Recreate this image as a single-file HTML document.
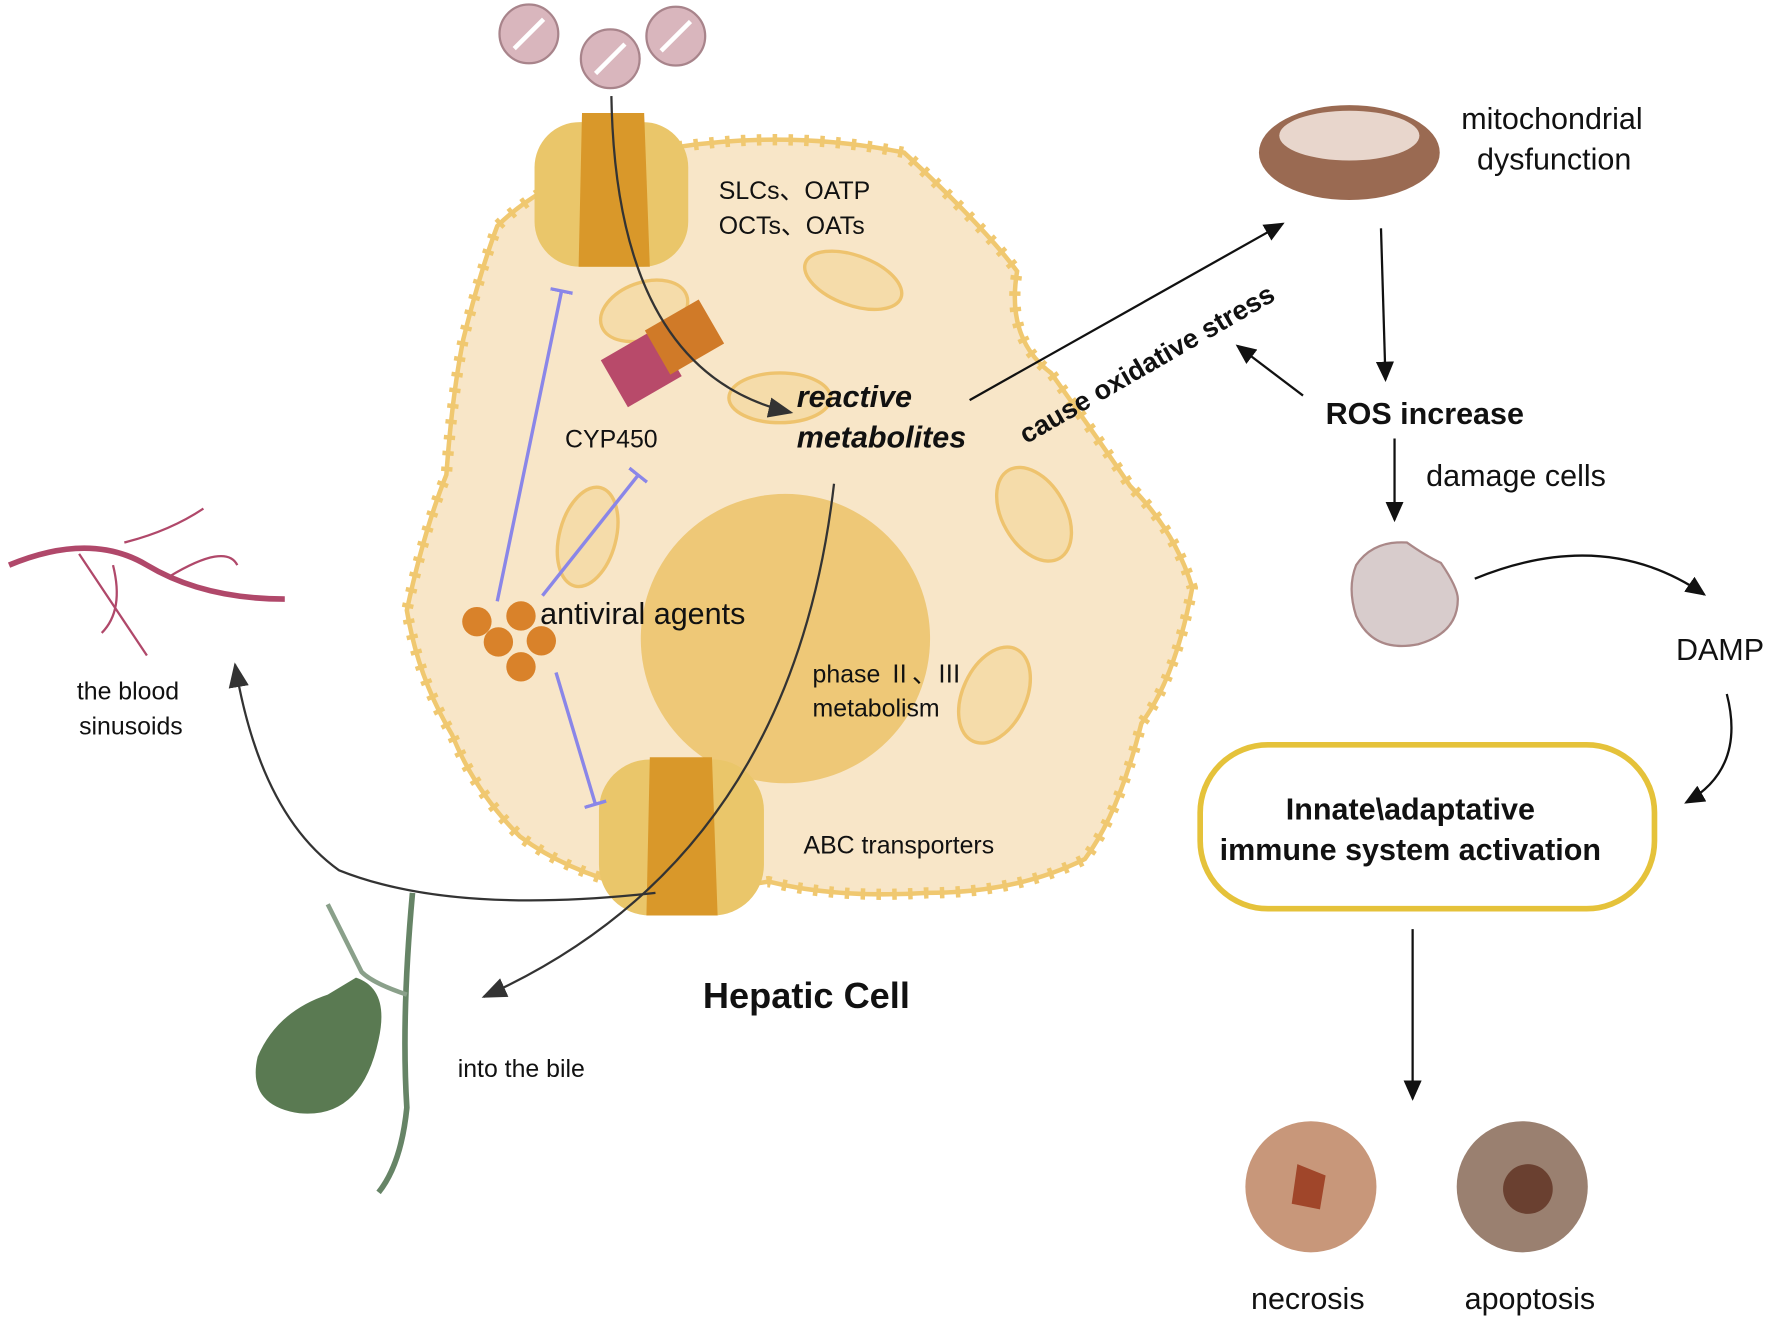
<!DOCTYPE html>
<html><head><meta charset="utf-8"><style>html,body{margin:0;padding:0;background:#fff}svg{display:block}text{font-family:"Liberation Sans","Noto Sans CJK SC",sans-serif;fill:#111}</style></head>
<body>
<svg width="1772" height="1319" viewBox="0 0 1568 1167" preserveAspectRatio="none" xmlns="http://www.w3.org/2000/svg">
<defs>
<marker id="ar" markerWidth="18" markerHeight="16" refX="16" refY="8" orient="auto" markerUnits="userSpaceOnUse"><path d="M0,0 L18,8 L0,16 z" fill="#111"/></marker>
<marker id="arg" markerWidth="22" markerHeight="18" refX="20" refY="9" orient="auto" markerUnits="userSpaceOnUse"><path d="M0,0 L22,9 L0,18 z" fill="#333"/></marker>
<marker id="bar" markerWidth="4" markerHeight="20" refX="2" refY="10" orient="auto" markerUnits="userSpaceOnUse"><rect x="0" y="0" width="3" height="20" fill="#8a86e8"/></marker>
</defs>
<!-- cell -->
<path d="M600,130 Q700,115 800,135 Q870,200 900,240 Q890,300 930,330 Q980,400 1000,430 Q1040,470 1055,520 Q1040,600 1010,640 Q990,720 960,760 Q900,790 820,790 Q740,795 680,780 Q620,790 560,785 Q500,770 460,740 Q420,700 400,650 Q370,600 360,540 Q375,470 395,420 Q400,350 410,300 Q425,240 440,200 Q470,170 520,150 Z" fill="#f8e6c8" stroke="#f0c870" stroke-width="4"/>
<path d="M600,130 Q700,115 800,135 Q870,200 900,240 Q890,300 930,330 Q980,400 1000,430 Q1040,470 1055,520 Q1040,600 1010,640 Q990,720 960,760 Q900,790 820,790 Q740,795 680,780 Q620,790 560,785 Q500,770 460,740 Q420,700 400,650 Q370,600 360,540 Q375,470 395,420 Q400,350 410,300 Q425,240 440,200 Q470,170 520,150 Z" fill="none" stroke="#f0c870" stroke-width="10" stroke-dasharray="4 10"/>
<circle cx="695" cy="565" r="128" fill="#eec877"/>
<g fill="#f5dcaa" stroke="#eec36e" stroke-width="3">
<ellipse cx="755" cy="248" rx="45" ry="22" transform="rotate(20 755 248)"/>
<ellipse cx="570" cy="275" rx="40" ry="25" transform="rotate(-20 570 275)"/>
<ellipse cx="690" cy="352" rx="45" ry="22"/>
<ellipse cx="520" cy="475" rx="25" ry="45" transform="rotate(15 520 475)"/>
<ellipse cx="915" cy="455" rx="28" ry="45" transform="rotate(-30 915 455)"/>
<ellipse cx="880" cy="615" rx="28" ry="45" transform="rotate(25 880 615)"/>
</g>
<g>
<rect x="473" y="108" width="136" height="128" rx="40" fill="#eac66a"/>
<path d="M515,100 L570,100 L575,236 L512,236 Z" fill="#d9982a"/>
<rect x="530" y="672" width="146" height="138" rx="45" fill="#eac66a"/>
<path d="M575,670 L630,670 L635,810 L572,810 Z" fill="#d9982a"/>
</g>
<g fill="#d9b6bd" stroke="#a8848b" stroke-width="2">
<circle cx="468" cy="30" r="26"/><circle cx="540" cy="52" r="26"/><circle cx="598" cy="32" r="26"/>
</g>
<g stroke="#fff" stroke-width="4"><line x1="455" y1="43" x2="481" y2="17"/><line x1="527" y1="65" x2="553" y2="39"/><line x1="585" y1="45" x2="611" y2="19"/></g>
<rect x="540" y="302" width="55" height="48" fill="#b84a6a" transform="rotate(-30 567 326)"/>
<rect x="578" y="276" width="55" height="45" fill="#d07a28" transform="rotate(-30 605 298)"/>
<g fill="#d9822a"><circle cx="422" cy="550" r="13"/><circle cx="461" cy="545" r="13"/><circle cx="441" cy="568" r="13"/><circle cx="479" cy="567" r="13"/><circle cx="461" cy="590" r="13"/></g>
<g stroke="#8a86e8" stroke-width="3">
<line x1="440" y1="532" x2="497" y2="257" marker-end="url(#bar)"/>
<line x1="480" y1="527" x2="565" y2="420" marker-end="url(#bar)"/>
<line x1="492" y1="595" x2="527" y2="712" marker-end="url(#bar)"/>
</g>
<g fill="none" stroke="#333" stroke-width="2">
<path d="M541,85 Q545,330 700,365" marker-end="url(#arg)"/>
<path d="M738,428 Q700,760 428,882" marker-end="url(#arg)"/>
<path d="M580,790 Q400,810 300,770 Q230,720 208,588" marker-end="url(#arg)"/>
</g>
<g fill="none" stroke="#111" stroke-width="2">
<line x1="858" y1="354" x2="1135" y2="198" marker-end="url(#ar)"/>
<line x1="1153" y1="350" x2="1095" y2="306" marker-end="url(#ar)"/>
<line x1="1222" y1="202" x2="1226" y2="336" marker-end="url(#ar)"/>
<line x1="1234" y1="388" x2="1234" y2="460" marker-end="url(#ar)"/>
<path d="M1305,512 Q1420,465 1508,526" marker-end="url(#ar)"/>
<path d="M1528,614 Q1545,680 1492,710" marker-end="url(#ar)"/>
<line x1="1250" y1="822" x2="1250" y2="972" marker-end="url(#ar)"/>
</g>
<ellipse cx="1194" cy="135" rx="80" ry="42" fill="#9a6a52"/>
<ellipse cx="1194" cy="120" rx="62" ry="22" fill="#e8d6cc"/>
<path d="M1200,500 Q1215,478 1245,480 Q1262,492 1275,498 Q1290,520 1290,530 Q1290,560 1255,570 Q1215,578 1200,545 Q1192,520 1200,500Z" fill="#d8cccc" stroke="#aa8888" stroke-width="2"/>
<rect x="1062" y="659" width="402" height="145" rx="60" fill="#fff" stroke="#e5c23a" stroke-width="5"/>
<circle cx="1160" cy="1050" r="58" fill="#c8977a"/><path d="M1148,1030 l25,10 l-5,30 l-25,-5z" fill="#a0462a"/>
<circle cx="1347" cy="1050" r="58" fill="#9a8070"/><circle cx="1352" cy="1052" r="22" fill="#6a4030"/>
<g fill="none" stroke="#b0486a" stroke-width="2">
<path d="M8,500 Q80,470 130,500 Q180,530 252,530" stroke-width="5"/>
<path d="M70,490 Q90,520 130,580"/><path d="M110,480 Q150,470 180,450"/><path d="M150,510 Q200,480 210,500"/><path d="M100,500 Q110,540 90,560"/>
</g>
<path d="M365,790 Q355,900 360,980 Q355,1030 335,1055" fill="none" stroke="#668466" stroke-width="5"/>
<path d="M360,880 Q330,870 320,860 Q300,820 290,800" fill="none" stroke="#8aa08a" stroke-width="4"/>
<path d="M315,865 Q345,875 335,920 Q320,990 265,985 Q218,978 228,935 Q245,895 290,880 Z" fill="#5a7a52"/>
<g font-size="22">
<text x="636" y="176">SLCs、OATP</text>
<text x="636" y="207">OCTs、OATs</text>
<text x="500" y="396">CYP450</text>
<text x="478" y="552" font-size="27">antiviral agents</text>
<text x="719" y="604">phase Ⅱ、Ⅲ</text>
<text x="719" y="634">metabolism</text>
<text x="711" y="755">ABC transporters</text>
<text x="68" y="619">the blood</text>
<text x="70" y="650">sinusoids</text>
<text x="405" y="953">into the bile</text>
<text x="1293" y="114" font-size="27">mitochondrial</text>
<text x="1307" y="150" font-size="27">dysfunction</text>
<text x="1262" y="430" font-size="27">damage cells</text>
<text x="1483" y="584" font-size="27">DAMP</text>
<text x="1107" y="1158" font-size="27">necrosis</text>
<text x="1296" y="1158" font-size="27">apoptosis</text>
</g>
<text x="705" y="360" font-size="27" font-weight="bold" font-style="italic">reactive</text>
<text x="705" y="396" font-size="27" font-weight="bold" font-style="italic">metabolites</text>
<text x="622" y="892" font-size="32" font-weight="bold">Hepatic Cell</text>
<text x="1173" y="375" font-size="27" font-weight="bold">ROS increase</text>
<text x="1248" y="725" font-size="27" font-weight="bold" text-anchor="middle">Innate\adaptative</text>
<text x="1248" y="761" font-size="27" font-weight="bold" text-anchor="middle">immune system activation</text>
<text x="0" y="0" font-size="24" font-weight="bold" transform="translate(908,393) rotate(-30)">cause oxidative stress</text>
</svg>
</body></html>
